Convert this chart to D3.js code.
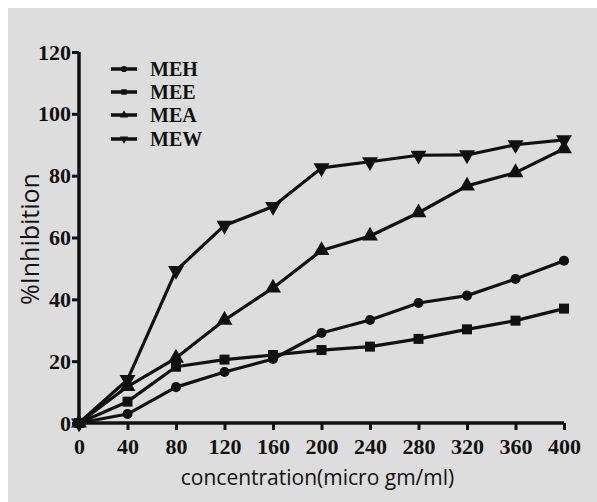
<!DOCTYPE html>
<html>
<head>
<meta charset="utf-8">
<script src="https://cdn.jsdelivr.net/npm/d3@7"></script>
<style>
  body { margin: 0; background: #fff; }
  .tick text { font-family: "Liberation Serif", serif; font-weight: bold; font-size: 22px; fill: #111; }
</style>
</head>
<body>
<div id="chart"></div>
<script>
var conc = [0, 40, 80, 120, 160, 200, 240, 280, 320, 360, 400];
var meh = [0, 2.9, 11.6, 16.5, 20.7, 29.1, 33.3, 38.8, 41.2, 46.6, 52.5];
var mee = [0, 6.9, 18.2, 20.5, 22.0, 23.6, 24.7, 27.2, 30.3, 33.1, 37.0];
var mea = [0, 11.8, 21.0, 33.3, 43.7, 55.8, 60.5, 68.0, 76.7, 81.0, 88.7];
var mew = [0, 14.0, 49.3, 63.9, 70.0, 82.5, 84.5, 86.6, 86.7, 90.0, 91.6];
var seriesNames = ["MEH", "MEE", "MEA", "MEW"];
var xTicks = [0, 40, 80, 120, 160, 200, 240, 280, 320, 360, 400];
var yTicks = [0, 20, 40, 60, 80, 100, 120];

var W = 597, H = 502;
var margin = { top: 52, right: 33, bottom: 79, left: 79 };
var width = W - margin.left - margin.right;
var height = H - margin.top - margin.bottom;

var svg = d3.select("#chart").append("svg")
  .attr("width", W).attr("height", H);

// gray panel
svg.append("rect").attr("x", 8).attr("y", 8)
  .attr("width", W - 8).attr("height", H - 8)
  .attr("fill", "#dddddd");

var g = svg.append("g")
  .attr("transform", "translate(" + margin.left + "," + margin.top + ")");

var x = d3.scaleLinear().domain([0, 400]).range([0, width]);
var y = d3.scaleLinear().domain([0, 120]).range([height, 0]);

var xAxis = g.append("g")
  .attr("transform", "translate(0," + height + ")")
  .call(d3.axisBottom(x).tickValues(xTicks).tickSize(7).tickPadding(8));
var yAxis = g.append("g")
  .call(d3.axisLeft(y).tickValues(yTicks).tickSize(7).tickPadding(1));

[xAxis, yAxis].forEach(function(a) {
  a.select(".domain").attr("stroke", "#111").attr("stroke-width", 3.5);
  a.selectAll(".tick line").attr("stroke", "#111").attr("stroke-width", 3);
});
xAxis.select(".domain").attr("d", "M0,0H" + width);
yAxis.select(".domain").attr("d", "M0," + height + "V0");

// axis titles
svg.append("text")
  .attr("x", margin.left + width / 2 - 4).attr("y", 485)
  .attr("text-anchor", "middle")
  .style("font-family", "'Open Sans', sans-serif")
  .style("font-size", "21px").attr("fill", "#111")
  .text("concentration(micro gm/ml)");
svg.append("text")
  .attr("transform", "translate(39,239) rotate(-90)")
  .attr("text-anchor", "middle")
  .style("font-family", "'Open Sans', sans-serif")
  .style("font-size", "25px").attr("fill", "#111")
  .text("%Inhibition");

var data = [meh, mee, mea, mew];
var symbols = [d3.symbolCircle, d3.symbolSquare, d3.symbolTriangle, d3.symbolTriangle];
var symSizes = [80, 100, 110, 110];
var rotations = [0, 0, 0, 180];

var line = d3.line()
  .x(function(d, i) { return x(conc[i]); })
  .y(function(d) { return y(d); });

data.forEach(function(vals, k) {
  g.append("path").datum(vals)
    .attr("fill", "none").attr("stroke", "#111")
    .attr("stroke-width", 3.2).attr("stroke-linejoin", "round")
    .attr("d", line);
  g.selectAll(".pt" + k).data(vals).enter().append("path")
    .attr("transform", function(d, i) {
      return "translate(" + x(conc[i]) + "," + y(d) + ") rotate(" + rotations[k] + ")";
    })
    .attr("d", d3.symbol().type(symbols[k]).size(symSizes[k]))
    .attr("fill", "#111");
});

// legend
var leg = svg.append("g");
seriesNames.forEach(function(name, k) {
  var ly = [69, 92, 115, 139][k];
  leg.append("line").attr("x1", 111).attr("x2", 137)
    .attr("y1", ly).attr("y2", ly)
    .attr("stroke", "#111").attr("stroke-width", 3.5);
  leg.append("path")
    .attr("transform", "translate(124," + ly + ") rotate(" + rotations[k] + ")")
    .attr("d", d3.symbol().type(symbols[k]).size(30))
    .attr("fill", "#111");
  leg.append("text").attr("x", 150).attr("y", ly + 7)
    .style("font-family", "'Liberation Serif', serif")
    .style("font-weight", "bold").style("font-size", "20px")
    .attr("fill", "#111").text(name);
});
</script>
</body>
</html>
